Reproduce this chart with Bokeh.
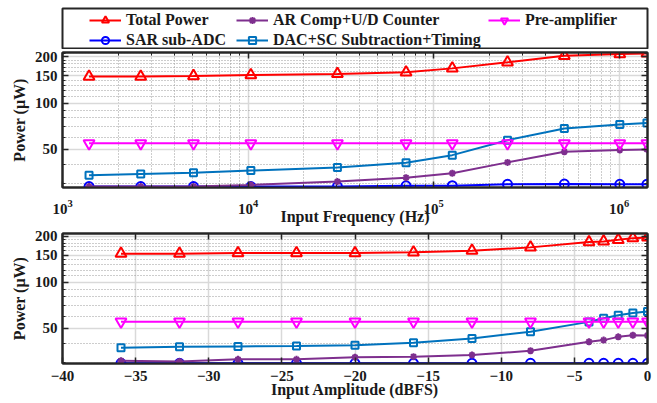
from bokeh.plotting import figure
from bokeh.models import (Range1d, FixedTicker, LogAxis, LinearAxis, Legend,
                          LegendItem, PrintfTickFormatter)
from bokeh.layouts import column
from bokeh.embed import file_html
from bokeh.resources import INLINE

# ---------------- data ----------------
freq_hz = [1.39e3, 2.64e3, 5.08e3, 1.035e4, 3.03e4, 7.1e4, 1.26e5, 2.5e5, 5.06e5, 1.007e6, 1.41e6]
f_total = [148.6, 148.6, 150.0, 152.0, 154.7, 158.5, 168.0, 184.0, 203.0, 208.0, 210.0]
f_ar = [28.7, 28.7, 28.7, 29.4, 30.9, 32.8, 35.0, 41.2, 48.3, 49.5, 50.0]
f_pre = [54.8, 54.8, 54.8, 54.8, 54.8, 54.8, 54.8, 54.8, 54.8, 54.8, 54.8]
f_sar = [28.7, 28.7, 28.7, 28.7, 28.7, 29.0, 29.1, 29.7, 29.8, 29.7, 29.7]
f_dac = [34.0, 34.6, 35.3, 36.5, 38.1, 41.0, 45.9, 57.4, 68.3, 72.5, 74.3]

amp_dbfs = [-36, -32, -28, -24, -20, -16, -12, -8, -4, -3, -2, -1, 0]
a_total = [153.5, 153.5, 155.0, 155.0, 155.0, 156.6, 160.7, 168.8, 182.7, 184.6, 189.0, 194.0, 196.0]
a_ar = [30.7, 30.3, 31.3, 31.3, 32.3, 32.6, 33.4, 35.6, 40.8, 41.8, 43.9, 45.0, 44.8]
a_pre = [55.2, 55.2, 55.2, 55.2, 55.2, 55.2, 55.2, 55.2, 55.2, 55.2, 55.2, 55.2, 55.2]
a_sar = [29.5, 29.5, 29.5, 29.5, 29.5, 29.5, 29.5, 29.5, 29.5, 29.5, 29.5, 29.5, 29.5]
a_dac = [37.3, 37.8, 38.0, 38.2, 38.7, 40.2, 42.9, 47.4, 55.0, 58.1, 60.8, 62.9, 64.2]

series_names = ["Total Power", "SAR sub-ADC", "AR Comp+U/D Counter",
                "DAC+SC Subtraction+Timing", "Pre-amplifier"]

y_major = [50, 100, 150, 200]
y_minor = [30, 40, 60, 70, 80, 90, 110, 120, 130, 140, 160, 170, 180, 190, 210]
f_major = [1e3, 1e4, 1e5, 1e6]
f_minor = [2e3, 3e3, 4e3, 5e3, 6e3, 7e3, 8e3, 9e3,
           2e4, 3e4, 4e4, 5e4, 6e4, 7e4, 8e4, 9e4,
           2e5, 3e5, 4e5, 5e5, 6e5, 7e5, 8e5, 9e5]
a_major = [-40, -35, -30, -25, -20, -15, -10, -5, 0]

# ---------------- styles ----------------
styles = {
    "Total Power": dict(color="#FF0000", marker="triangle", size=11),
    "SAR sub-ADC": dict(color="#0000FF", marker="circle", size=9),
    "AR Comp+U/D Counter": dict(color="#7E2F8E", marker="asterisk", size=7),
    "DAC+SC Subtraction+Timing": dict(color="#0072BD", marker="square", size=7),
    "Pre-amplifier": dict(color="#FF00FF", marker="inverted_triangle", size=11),
}
# legend slots inside the legend box: (x from box left, slot bottom above box bottom), px
legend_slots = {
    "Total Power": (27, 20),
    "AR Comp+U/D Counter": (174, 20),
    "Pre-amplifier": (426, 20),
    "SAR sub-ADC": (27, 0),
    "DAC+SC Subtraction+Timing": (174, 0),
}
FONT = "Liberation Serif"
TXT = "#1a1a1a"
FRAME = "#262626"
NAN = float("nan")


def style_axis(ax, show_labels=True):
    ax.axis_line_width = 2
    ax.axis_line_color = FRAME
    ax.major_tick_in = 6
    ax.major_tick_out = 0
    ax.minor_tick_in = 3
    ax.minor_tick_out = 0
    ax.major_tick_line_color = FRAME
    ax.minor_tick_line_color = FRAME
    ax.major_tick_line_width = 1.5
    ax.minor_tick_line_width = 1
    ax.major_label_text_font = FONT
    ax.major_label_text_font_style = "bold"
    ax.major_label_text_font_size = "15px"
    ax.major_label_text_color = TXT
    ax.axis_label_text_font = FONT
    ax.axis_label_text_font_style = "bold"
    ax.axis_label_text_font_size = "16px"
    ax.axis_label_text_color = TXT
    if not show_labels:
        ax.major_label_text_font_size = "1px"
        ax.major_label_text_alpha = 0
        ax.major_label_standoff = 0


def make_fig(x, ys, x_log, x_range, y_range, xlabel, x_ticks, x_minor,
             border_top, border_bottom, frame_h, lab_standoff, axlab_standoff):
    p = figure(x_axis_type="log" if x_log else "linear", y_axis_type="log",
               x_range=x_range, y_range=y_range,
               width=657, height=border_top + frame_h + border_bottom,
               min_border_left=62, min_border_right=10,
               min_border_top=border_top, min_border_bottom=border_bottom,
               output_backend="svg", toolbar_location=None)
    p.outline_line_color = FRAME
    p.outline_line_width = 2

    xt = FixedTicker(ticks=x_ticks, minor_ticks=x_minor)
    yt = FixedTicker(ticks=y_major, minor_ticks=y_minor)
    p.xaxis.ticker = xt
    p.yaxis.ticker = yt
    p.yaxis.formatter = PrintfTickFormatter(format="%d")
    p.xaxis.axis_label = xlabel
    p.yaxis.axis_label = "Power (μW)"
    for ax in p.xaxis + p.yaxis:
        style_axis(ax)
    p.xaxis.major_label_standoff = lab_standoff
    p.xaxis.axis_label_standoff = axlab_standoff
    p.yaxis.major_label_standoff = 5
    p.yaxis.axis_label_standoff = 4

    AxisCls = LogAxis if x_log else LinearAxis
    top = AxisCls(ticker=xt)
    style_axis(top, show_labels=False)
    p.add_layout(top, "above")
    right = LogAxis(ticker=yt)
    style_axis(right, show_labels=False)
    p.add_layout(right, "right")

    for g in p.xgrid + p.ygrid:
        g.grid_line_color = "#d9d9d9"
        g.grid_line_width = 1.5
        g.minor_grid_line_color = "#9a9a9a"
        g.minor_grid_line_width = 1
        g.minor_grid_line_dash = "1 2"

    for name, y in zip(series_names, ys):
        s = styles[name]
        p.line(x, y, line_color=s["color"], line_width=2)
        p.scatter(x, y, marker=s["marker"], size=s["size"],
                  line_color=s["color"], line_width=2, fill_alpha=0)
    return p


# ---------------- legend strip: its frame is the legend box ----------------
p0 = figure(width=657, height=49, x_range=Range1d(0, 1), y_range=Range1d(0, 1),
            min_border_left=62, min_border_right=10, min_border_top=8,
            min_border_bottom=0, x_axis_location=None, y_axis_location=None,
            output_backend="svg", toolbar_location=None)
p0.grid.visible = False
p0.outline_line_color = FRAME
p0.outline_line_width = 2
for name in series_names:
    s = styles[name]
    # legend-key renderers: a single NaN point, so nothing is drawn in the strip
    lr = p0.line(x=[NAN], y=[NAN], line_color=s["color"], line_width=2)
    mr = p0.scatter(x=[NAN], y=[NAN], marker=s["marker"], size=s["size"],
                    line_color=s["color"], line_width=2, fill_alpha=0)
    leg = Legend(items=[LegendItem(label=name, renderers=[lr, mr])],
                 location=legend_slots[name], orientation="horizontal",
                 label_text_font=FONT, label_text_font_style="bold",
                 label_text_font_size="16px", label_text_color=TXT,
                 glyph_width=32, glyph_height=18, label_height=18,
                 label_standoff=5, spacing=0, padding=0, margin=0,
                 border_line_color=None, background_fill_alpha=0)
    p0.add_layout(leg, "center")

p1 = make_fig(freq_hz, [f_total, f_sar, f_ar, f_dac, f_pre], True,
              Range1d(1e3, 1.42e6), Range1d(28.3, 213),
              "Input Frequency (Hz)", f_major, f_minor,
              3, 39, 136, 12, -9)
p2 = make_fig(amp_dbfs, [a_total, a_sar, a_ar, a_dac, a_pre], False,
              Range1d(-40, 0), Range1d(29.4, 208),
              "Input Amplitude (dBFS)", a_major, [],
              6, 40, 130, 7, -3)

layout = column(p0, p1, p2, spacing=0)
open("out.html", "w").write(file_html(layout, INLINE))
